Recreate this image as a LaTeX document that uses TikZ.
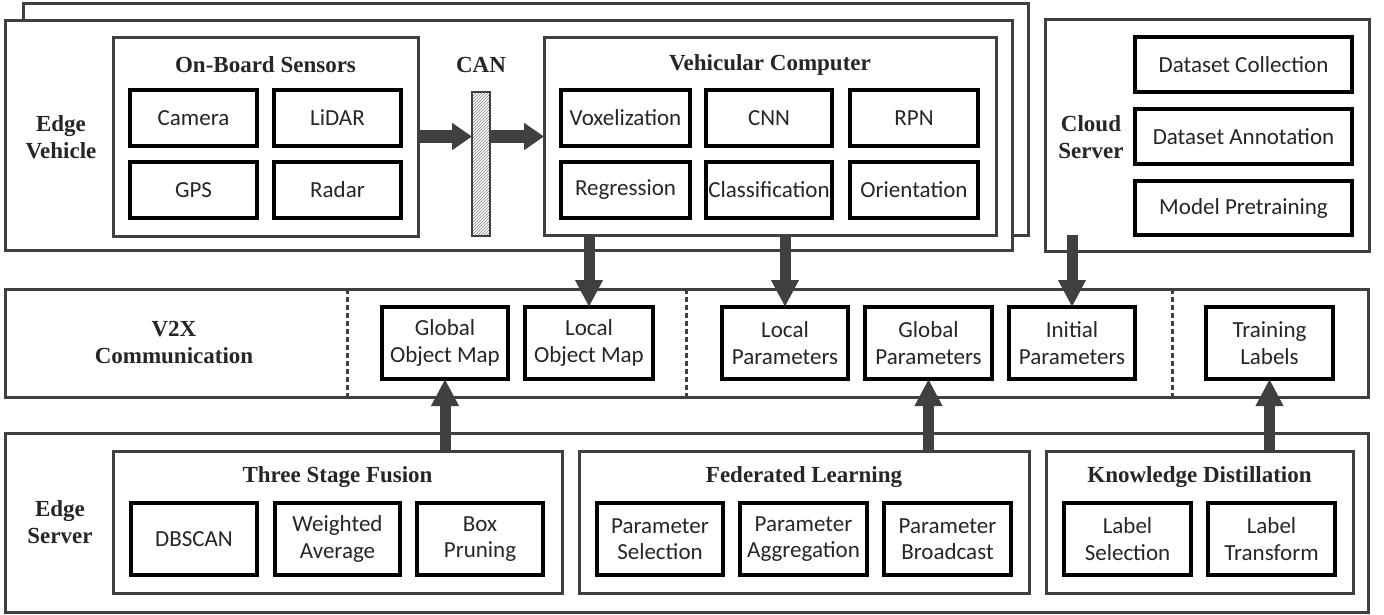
\documentclass[tikz,border=0pt]{standalone}
\usepackage{fontspec}
\usetikzlibrary{arrows.meta,patterns}
\newfontfamily\carlito{Carlito}
\newfontfamily\tnr{Liberation Serif}
\definecolor{dgray}{HTML}{404040}
\definecolor{tgray}{HTML}{262626}
\newcommand{\itemfont}{\carlito\fontsize{23}{26.5}\selectfont}
\newcommand{\titlefont}{\tnr\bfseries\fontsize{23}{27}\selectfont}
\newcommand{\rbox}[6]{\node[#1,minimum width={#4pt-#2pt},minimum height={#5pt-#3pt}] (#6) at ({(#2+#4)/2},{(#3+#5)/2})}
\tikzset{
  outerbox/.style={draw=dgray,line width=3pt,fill=white,inner sep=0pt,outer sep=0pt},
  groupbox/.style={draw=dgray,line width=3pt,inner sep=0pt,outer sep=0pt},
  itembox/.style={draw=black,line width=3.5pt,fill=white,inner sep=0pt,outer sep=0pt,font=\itemfont,text=tgray,align=center},
  canbar/.style={draw=dgray,line width=2.5pt,pattern=north east lines,pattern color=gray,inner sep=0pt,outer sep=0pt},
  title/.style={font=\titlefont,text=tgray,align=center,inner sep=0pt},
  harrow/.style={draw=dgray,line width=13pt,-{Triangle[length=20pt,width=26pt]}},
  varrow/.style={draw=dgray,line width=11pt,-{Triangle[length=27pt,width=26pt]}},
  sepline/.style={draw=dgray,line width=3pt,dash pattern=on 5pt off 3pt}
}
\begin{document}
\begin{tikzpicture}[x=1pt,y=-1pt]
\useasboundingbox (0,0) rectangle (1384,614);
% ---------- top: edge vehicle ----------
\rbox{outerbox}{23}{3}{1028}{235}{back} {};
\rbox{outerbox}{5}{20}{1012}{250}{ev} {};
\node[title] (evlab) at (61,137) {Edge\\Vehicle};
\rbox{groupbox}{113}{37}{418}{236}{sens} {};
\node[title] (senslab) at (265.5,65) {On-Board Sensors};
\rbox{itembox}{130}{90}{257}{146}{cam} {Camera};
\rbox{itembox}{274}{90}{401}{146}{lidar} {LiDAR};
\rbox{itembox}{130}{162}{257}{218}{gps} {GPS};
\rbox{itembox}{274}{162}{401}{218}{radar} {Radar};
\node[title] (canlab) at (481,65) {CAN};
\rbox{canbar}{472}{92}{490}{236}{can} {};
\rbox{groupbox}{544}{37}{996}{235}{vc} {};
\node[title] (vclab) at (770,65) {Vehicular Computer};
\rbox{itembox}{561}{90}{690}{146}{vox} {Voxelization};
\rbox{itembox}{706}{90}{832}{146}{cnn} {CNN};
\rbox{itembox}{850}{90}{978}{146}{rpn} {RPN};
\rbox{itembox}{561}{162}{690}{218}{reg} {Regression};
\rbox{itembox}{706}{162}{832}{218}{cls} {Classification};
\rbox{itembox}{850}{162}{978}{218}{ori} {Orientation};
% ---------- cloud ----------
\rbox{outerbox}{1045}{19}{1369}{251}{cloud} {};
\node[title] (cloudlab) at (1091,137) {Cloud\\Server};
\rbox{itembox}{1135}{37}{1352}{92}{dcol} {Dataset Collection};
\rbox{itembox}{1135}{109}{1352}{164}{dann} {Dataset Annotation};
\rbox{itembox}{1135}{181}{1352}{235}{dpre} {Model Pretraining};
% ---------- V2X ----------
\rbox{outerbox}{5}{289}{1368}{397}{v2x} {};
\node[title] (v2xlab) at (174,343) {V2X\\Communication};
\draw[sepline] (347,0 |- v2x.north) -- (347,0 |- v2x.south);
\draw[sepline] (686,0 |- v2x.north) -- (686,0 |- v2x.south);
\draw[sepline] (1172,0 |- v2x.north) -- (1172,0 |- v2x.south);
\rbox{itembox}{382}{307}{508}{379}{gom} {Global\\Object Map};
\rbox{itembox}{525}{307}{653}{379}{lom} {Local\\Object Map};
\rbox{itembox}{722}{307}{848}{379}{lpar} {Local\\Parameters};
\rbox{itembox}{865}{307}{992}{379}{gpar} {Global\\Parameters};
\rbox{itembox}{1009}{307}{1135}{379}{ipar} {Initial\\Parameters};
\rbox{itembox}{1206}{307}{1333}{379}{tlab} {Training\\Labels};
% ---------- Edge server ----------
\rbox{outerbox}{5}{433}{1368}{612}{es} {};
\node[title] (eslab) at (60,522) {Edge\\Server};
\rbox{groupbox}{113}{451}{562}{593}{tsf} {};
\node[title] (tsflab) at (337.5,477) {Three Stage Fusion};
\rbox{itembox}{131}{503}{257}{575}{dbs} {DBSCAN};
\rbox{itembox}{275}{503}{400}{575}{wavg} {Weighted\\Average};
\rbox{itembox}{417}{503}{543}{575}{bprun} {Box\\Pruning};
\rbox{groupbox}{579}{451}{1029}{593}{fl} {};
\node[title] (fllab) at (804,477) {Federated Learning};
\rbox{itembox}{597}{503}{723}{575}{psel} {Parameter\\Selection};
\rbox{itembox}{740}{503}{867}{575}{pagg} {Parameter\\Aggregation};
\rbox{itembox}{884}{503}{1011}{575}{pbc} {Parameter\\Broadcast};
\rbox{groupbox}{1046}{451}{1353}{593}{kd} {};
\node[title] (kdlab) at (1199.5,477) {Knowledge Distillation};
\rbox{itembox}{1064}{503}{1191}{575}{lsel} {Label\\Selection};
\rbox{itembox}{1208}{503}{1335}{575}{ltr} {Label\\Transform};
% ---------- arrows ----------
\draw[harrow] (sens.east) -- (sens.east -| can.west);
\draw[harrow] (can.east |- sens.east) -- (vc.west |- sens.east);
\draw[varrow] (lom.north |- vc.south) -- (lom.north);
\draw[varrow] (lpar.north |- vc.south) -- (lpar.north);
\draw[varrow] (ipar.north |- dpre.south) -- (ipar.north);
\draw[varrow] (gom.south |- tsf.north) -- (gom.south);
\draw[varrow] (gpar.south |- fl.north) -- (gpar.south);
\draw[varrow] (tlab.south |- kd.north) -- (tlab.south);
\end{tikzpicture}
\end{document}
